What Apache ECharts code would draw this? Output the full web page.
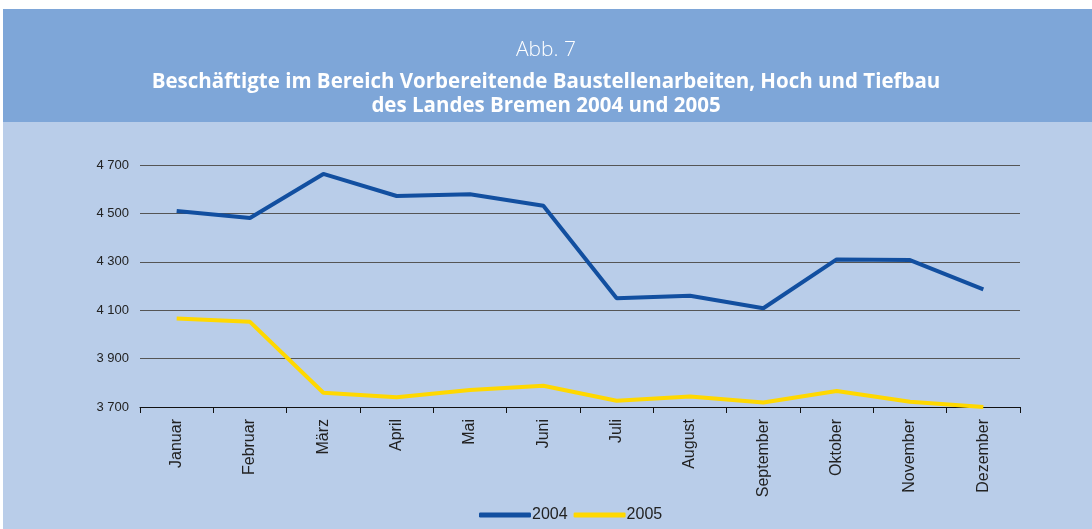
<!DOCTYPE html>
<html>
<head>
<meta charset="utf-8">
<script src="https://cdn.jsdelivr.net/npm/echarts@6/dist/echarts.min.js"></script>
<style>
  html, body { margin: 0; padding: 0; background: #fff; }
  #mainChart { width: 1092px; height: 529px; }
</style>
</head>
<body>
<div id="mainChart"></div>
<script>
const months = ['Januar', 'Februar', 'März', 'April', 'Mai', 'Juni', 'Juli', 'August', 'September', 'Oktober', 'November', 'Dezember']
const values2004 = [4510, 4481, 4663, 4572, 4579, 4532, 4149, 4160, 4108, 4310, 4307, 4186]
const values2005 = [4066, 4052, 3759, 3740, 3770, 3788, 3726, 3743, 3719, 3766, 3722, 3700]

const chart = echarts.init(document.getElementById('mainChart'))

const titleStyle = {
  color: '#fff',
  fontSize: 20.5,
  fontWeight: 'bold',
  fontFamily: 'Open Sans'
}

const option = {
  animation: false,
  backgroundColor: '#ffffff',
  graphic: [{
    type: 'rect',
    z: -10,
    shape: {x: 3, y: 9, width: 1089, height: 520},
    style: {fill: '#b9cde9'}
  }, {
    type: 'rect',
    z: -9,
    shape: {x: 3, y: 9, width: 1089, height: 113},
    style: {fill: '#7ea6d8'}
  }],
  title: [{
    text: 'Abb. 7',
    left: 'center',
    top: 35,
    textStyle: {
      color: '#fff',
      fontSize: 21,
      fontWeight: 300,
      fontFamily: 'Open Sans'
    }
  }, {
    text: 'Beschäftigte im Bereich Vorbereitende Baustellenarbeiten, Hoch und Tiefbau',
    left: 'center',
    top: 67,
    textStyle: titleStyle
  }, {
    text: 'des Landes Bremen 2004 und 2005',
    left: 'center',
    top: 91,
    textStyle: titleStyle
  }],
  legend: {
    bottom: 1,
    left: 474,
    itemGap: 6,
    itemWidth: 52,
    itemHeight: 5,
    icon: 'roundRect',
    textStyle: {
      color: '#222',
      fontSize: 16,
      fontFamily: 'Liberation Sans Narrow, Arial',
      padding: [0, 0, 0, -4]
    },
    data: ['2004', '2005']
  },
  grid: {
    left: 140,
    right: 72,
    top: 165,
    bottom: 122
  },
  xAxis: {
    type: 'category',
    data: months,
    axisLine: {lineStyle: {color: '#111', width: 1}},
    axisTick: {show: true, length: 6, lineStyle: {color: '#111'}},
    axisLabel: {
      rotate: 90,
      margin: 12,
      color: '#222',
      fontSize: 16,
      fontFamily: 'Arial',
      interval: 0
    }
  },
  yAxis: {
    type: 'value',
    min: 3700,
    max: 4700,
    interval: 200,
    axisLine: {show: false},
    axisTick: {show: false},
    splitLine: {lineStyle: {color: '#555', width: 1}},
    axisLabel: {
      margin: 11,
      color: '#222',
      fontSize: 13,
      fontFamily: 'Arial',
      formatter: v => String(v).replace(/\B(?=(\d{3})+$)/, ' ')
    }
  },
  series: [{
    name: '2004',
    type: 'line',
    data: values2004,
    symbol: 'none',
    lineStyle: {width: 4, color: '#124fa0'},
    itemStyle: {color: '#124fa0'}
  }, {
    name: '2005',
    type: 'line',
    data: values2005,
    symbol: 'none',
    lineStyle: {width: 4, color: '#ffd800'},
    itemStyle: {color: '#ffd800'}
  }]
}

chart.setOption(option)
</script>
</body>
</html>
